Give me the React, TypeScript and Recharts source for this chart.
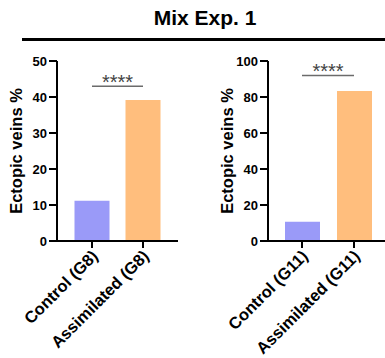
import { BarChart, Bar, XAxis, YAxis, Cell, ReferenceLine } from "recharts";

// Mix Exp. 1 — ectopic veins, two panels
const leftGroups = ["Control (G8)", "Assimilated (G8)"];
const leftValues = [11.2, 39.2];
const leftTicks = [0, 10, 20, 30, 40, 50];
const leftSigY = 43;

const rightGroups = ["Control (G11)", "Assimilated (G11)"];
const rightValues = [10.7, 83.3];
const rightTicks = [0, 20, 40, 60, 80, 100];
const rightSigY = 92;

const COLORS = ["#9a9af8", "#ffbe7d"];
const FONT = "Arial, 'Liberation Sans', sans-serif";

const XTick = ({ x, y, payload }: any) => (
    <g transform={`translate(${x},${y})`}>
        <text
            x={0}
            y={0}
            dy="0.6em"
            textAnchor="end"
            transform="rotate(-45)"
            fontSize={16.5}
            fontWeight="bold"
            fontFamily={FONT}
            fill="#000"
        >
            {payload.value}
        </text>
    </g>
);

const yLabel = (props: any) => {
    const vb = props.viewBox;
    const x = vb.x + vb.width - 35;
    const y = vb.y + vb.height / 2;
    return (
        <text
            x={x}
            y={y}
            transform={`rotate(-90, ${x}, ${y})`}
            textAnchor="middle"
            fontSize={16.5}
            fontWeight="bold"
            fontFamily={FONT}
            fill="#000"
        >
            Ectopic veins %
        </text>
    );
};

const Panel = ({ groups, values, ticks, sigY, width, yWidth, pad }: any) => {
    const data = groups.map((name: string, i: number) => ({ name, value: values[i] }));
    return (
        <BarChart
            width={width}
            height={358}
            data={data}
            margin={{ top: 61, right: 12, bottom: 0, left: 0 }}
        >
            <XAxis
                dataKey="name"
                height={117}
                interval={0}
                padding={{ left: pad, right: pad }}
                axisLine={{ stroke: "#000", strokeWidth: 2 }}
                tickLine={{ stroke: "#000", strokeWidth: 2 }}
                tickSize={7}
                tickMargin={2}
                tick={<XTick />}
            />
            <YAxis
                width={yWidth}
                domain={[ticks[0], ticks[ticks.length - 1]]}
                ticks={ticks}
                interval={0}
                axisLine={{ stroke: "#000", strokeWidth: 2 }}
                tickLine={{ stroke: "#000", strokeWidth: 2 }}
                tickSize={8}
                tickMargin={2}
                tick={{ fontSize: 13, fontWeight: "bold", fill: "#000", fontFamily: FONT }}
                label={yLabel}
            />
            <Bar dataKey="value" barSize={35} isAnimationActive={false}>
                {data.map((_: any, i: number) => (
                    <Cell key={`cell-${i}`} fill={COLORS[i % COLORS.length]} />
                ))}
            </Bar>
            <ReferenceLine
                segment={[
                    { x: groups[0], y: sigY },
                    { x: groups[1], y: sigY },
                ]}
                stroke="#6b6b6b"
                strokeWidth={1.5}
                label={{
                    value: "****",
                    position: "top",
                    offset: -3,
                    fill: "#444",
                    fontSize: 20,
                    fontFamily: FONT,
                }}
            />
        </BarChart>
    );
};

export default function App() {
    return (
        <div
            style={{
                position: "absolute",
                left: 0,
                top: 0,
                width: 385,
                height: 358,
                overflow: "hidden",
                background: "#fff",
                fontFamily: FONT,
            }}
        >
            <div
                style={{
                    position: "absolute",
                    left: 0,
                    width: 410,
                    top: 7,
                    lineHeight: "21px",
                    fontSize: 21,
                    fontWeight: "bold",
                    textAlign: "center",
                    color: "#000",
                }}
            >
                Mix Exp. 1
            </div>
            <div
                style={{
                    position: "absolute",
                    left: 22,
                    right: 0,
                    top: 38,
                    height: 3,
                    background: "#000",
                }}
            />
            <div style={{ position: "absolute", left: 0, top: 0 }}>
                <Panel
                    groups={leftGroups}
                    values={leftValues}
                    ticks={leftTicks}
                    sigY={leftSigY}
                    width={190}
                    yWidth={57}
                    pad={9.5}
                />
            </div>
            <div style={{ position: "absolute", left: 200, top: 0 }}>
                <Panel
                    groups={rightGroups}
                    values={rightValues}
                    ticks={rightTicks}
                    sigY={rightSigY}
                    width={200}
                    yWidth={68}
                    pad={8}
                />
            </div>
        </div>
    );
}
